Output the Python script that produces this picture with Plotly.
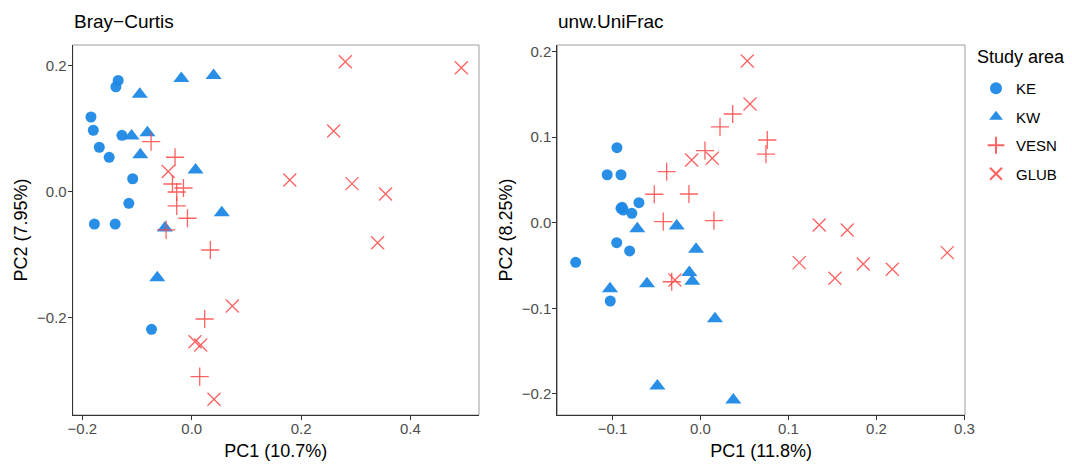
import plotly.graph_objects as go

W, H = 1072, 466

# ---- data ----
groups = ["KE", "KW", "VESN", "GLUB"]

bc_KE_x = [-0.1345, -0.1387, -0.1843, -0.180, -0.1277, -0.169, -0.151, -0.108, -0.115, -0.178, -0.140, -0.0735]
bc_KE_y = [0.177, 0.167, 0.119, 0.098, 0.090, 0.071, 0.055, 0.021, -0.018, -0.051, -0.051, -0.218]
bc_KW_x = [-0.019, 0.040, -0.095, -0.110, -0.081, -0.094, 0.007, 0.055, -0.049, -0.063]
bc_KW_y = [0.180, 0.185, 0.155, 0.089, 0.094, 0.059, 0.035, -0.033, -0.057, -0.136]
bc_VESN_x = [-0.0743, -0.0305, -0.0352, -0.0151, -0.0274, -0.0274, -0.0078, -0.0469, 0.0341, 0.0237, 0.0146]
bc_VESN_y = [0.0798, 0.0551, 0.0127, 0.0063, 0.000, -0.0222, -0.0417, -0.0603, -0.0921, -0.2016, -0.2932]
bc_GLUB_x = [-0.0429, 0.281, 0.4932, 0.2597, 0.1794, 0.2932, 0.3546, 0.340, 0.0743, 0.006, 0.0164, 0.0407]
bc_GLUB_y = [0.0325, 0.2068, 0.1973, 0.0968, 0.019, 0.0132, -0.0032, -0.0805, -0.181, -0.2376, -0.2429, -0.329]

uf_KE_x = [-0.0949, -0.106, -0.0903, -0.0903, -0.0877, -0.078, -0.0699, -0.0952, -0.0805, -0.1418, -0.1025, -0.089]
uf_KE_y = [0.0876, 0.056, 0.056, 0.0168, 0.0148, 0.011, 0.0234, -0.0234, -0.033, -0.0463, -0.0915, 0.018]
uf_KW_x = [-0.0718, -0.027, -0.005, -0.0127, -0.0093, -0.0608, -0.1028, 0.0165, -0.049, 0.0373]
uf_KW_y = [-0.0070, -0.0038, -0.0311, -0.0583, -0.0683, -0.0713, -0.0771, -0.1121, -0.1907, -0.2073]
uf_VESN_x = [-0.0384, -0.0525, -0.0131, 0.0051, 0.0222, 0.0366, 0.0759, 0.0744, -0.0423, 0.0153, -0.0327]
uf_VESN_y = [0.0596, 0.0332, 0.0335, 0.0841, 0.112, 0.127, 0.0966, 0.080, 0.0012, 0.0023, -0.069]
uf_GLUB_x = [0.0532, 0.0563, -0.010, 0.0134, 0.135, 0.1668, 0.1123, 0.1528, 0.185, 0.218, 0.2805, -0.029]
uf_GLUB_y = [0.189, 0.1387, 0.0733, 0.0752, -0.0027, -0.0085, -0.0467, -0.065, -0.0482, -0.0545, -0.035, -0.067]

bc_xticks = [-0.2, 0.0, 0.2, 0.4]
bc_yticks = [-0.2, 0.0, 0.2]
uf_xticks = [-0.1, 0.0, 0.1, 0.2, 0.3]
uf_yticks = [-0.2, -0.1, 0.0, 0.1, 0.2]

panel_titles = ["Bray\u2212Curtis", "unw.UniFrac"]
x_titles = ["PC1 (10.7%)", "PC1 (11.8%)"]
y_titles = ["PC2 (7.95%)", "PC2 (8.25%)"]
legend_title = "Study area"

# ---- styles ----
BLUE = "rgba(30,136,229,0.95)"
RED = "rgba(255,70,70,0.85)"
styles = {
    "KE": dict(symbol="circle", size=11, color=BLUE, line=dict(width=0)),
    "KW": dict(symbol="triangle-up", size=14, color=BLUE, line=dict(width=0)),
    "VESN": dict(symbol="cross-thin", size=13, color=RED, line=dict(width=1.3, color=RED)),
    "GLUB": dict(symbol="x-thin", size=13, color=RED, line=dict(width=1.3, color=RED)),
}

data = {
    "bc": {"KE": (bc_KE_x, bc_KE_y), "KW": (bc_KW_x, bc_KW_y),
           "VESN": (bc_VESN_x, bc_VESN_y), "GLUB": (bc_GLUB_x, bc_GLUB_y)},
    "uf": {"KE": (uf_KE_x, uf_KE_y), "KW": (uf_KW_x, uf_KW_y),
           "VESN": (uf_VESN_x, uf_VESN_y), "GLUB": (uf_GLUB_x, uf_GLUB_y)},
}

fig = go.Figure()
for pi, (key, xa, ya) in enumerate([("bc", "x", "y"), ("uf", "x2", "y2")]):
    for g in groups:
        xs, ys = data[key][g]
        fig.add_trace(go.Scatter(
            x=xs, y=ys, mode="markers", name=g, legendgroup=g,
            showlegend=(pi == 0), marker=styles[g], xaxis=xa, yaxis=ya,
        ))

# domains in pixels
p1 = (72.7, 479.0)
p2 = (557.3, 965.0)
top, bot = 45.0, 415.0
ydom = [1 - bot / H, 1 - top / H]

FONT = "Liberation Sans, Arial, sans-serif"
tickfont = dict(family=FONT, size=15, color="#4D4D4D")
titlefont = dict(family=FONT, size=18, color="#000000")

def axis_common(standoff):
    return dict(showgrid=False, zeroline=False, showline=True, linecolor="#333333",
                linewidth=1, ticks="outside", ticklen=4, tickcolor="#333333",
                tickwidth=1, tickfont=tickfont, tickformat=".1f", mirror=False,
                automargin=False, ticklabelstandoff=standoff)

fig.update_layout(
    width=W, height=H, margin=dict(l=0, r=0, t=0, b=0, autoexpand=False),
    paper_bgcolor="white", plot_bgcolor="white",
    font=dict(family=FONT),
    xaxis=dict(domain=[p1[0] / W, p1[1] / W], range=[-0.2177, 0.5255], tickvals=bc_xticks,
               title=dict(text=x_titles[0], font=titlefont, standoff=8), anchor="y", **axis_common(-4)),
    yaxis=dict(domain=ydom, range=[-0.354, 0.2333], tickvals=bc_yticks,
               title=dict(text=y_titles[0], font=titlefont, standoff=4), anchor="x", **axis_common(-2)),
    xaxis2=dict(domain=[p2[0] / W, p2[1] / W], range=[-0.1627, 0.3006], tickvals=uf_xticks,
                title=dict(text=x_titles[1], font=titlefont, standoff=8), anchor="y2", **axis_common(-4)),
    yaxis2=dict(domain=ydom, range=[-0.2247, 0.2076], tickvals=uf_yticks,
                title=dict(text=y_titles[1], font=titlefont, standoff=4), anchor="x2", **axis_common(-2)),
    legend=dict(x=976 / W, xanchor="left", y=1 - 72 / H, yanchor="top",
                font=dict(family=FONT, size=15, color="#000000"), tracegroupgap=6,
                bgcolor="rgba(0,0,0,0)", itemsizing="constant"),
    showlegend=True,
)

for (l, r) in (p1, p2):
    fig.add_shape(type="rect", xref="paper", yref="paper", x0=l / W, x1=r / W,
                  y0=ydom[0], y1=ydom[1], line=dict(color="#9E9E9E", width=1), layer="below")

for i, (l, r) in enumerate((p1, p2)):
    fig.add_annotation(text=panel_titles[i], xref="paper", yref="paper", x=(l - 1) / W,
                       y=1 - 22 / H, xanchor="left", yanchor="middle", showarrow=False,
                       font=dict(family=FONT, size=19, color="#000000"))

fig.add_annotation(text=legend_title, xref="paper", yref="paper", x=975 / W,
                   y=1 - 57 / H, xanchor="left", yanchor="middle", showarrow=False,
                   font=dict(family=FONT, size=18, color="#000000"))

fig.write_html("out.html", config={"displayModeBar": False},
               post_script="document.body.style.margin='0';")
